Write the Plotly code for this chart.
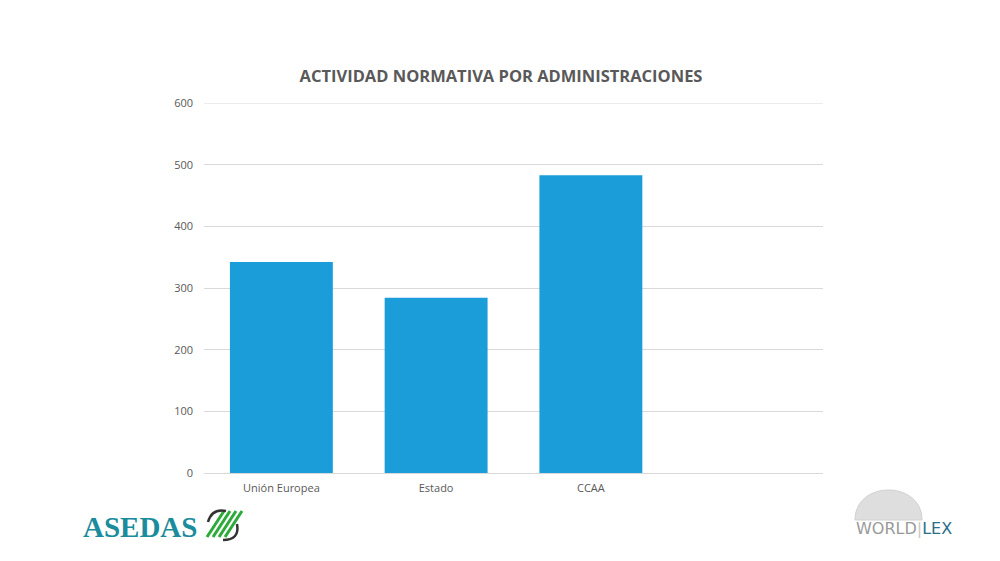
import plotly.graph_objects as go

categories = ["Unión Europea", "Estado", "CCAA", " "]
values = [342, 284, 483, None]
y_ticks = [0, 100, 200, 300, 400, 500, 600]
title_text = "ACTIVIDAD NORMATIVA POR ADMINISTRACIONES"

# helpers to place logo decorations relative to plot area (reference pixel coords)
def px(X):
    return (X - 204) / 619

def py(Y):
    return (473 - Y) / 370

fig = go.Figure()
fig.add_trace(go.Bar(
    x=categories, y=values,
    marker=dict(color="#1b9dd9", line=dict(width=0)),
    width=0.665,
    hoverinfo="x+y",
))

fig.update_layout(
    width=1000, height=561,
    margin=dict(l=196, r=185, t=95, b=96),
    paper_bgcolor="white", plot_bgcolor="white",
    showlegend=False,
    title=dict(text=title_text, x=0.493, xanchor="center", y=1 - 68 / 561, yanchor="middle",
               font=dict(family="Open Sans", size=16.5, color="#595959", weight="bold")),
    xaxis=dict(type="category", categoryorder="array", categoryarray=categories,
               range=[-0.5, 3.5], showgrid=False, showline=True, linecolor="#d9d9d9",
               linewidth=1, ticks="", ticklabelstandoff=5,
               tickfont=dict(family="Open Sans", size=11, color="#595959")),
    yaxis=dict(range=[0, 600], tickvals=y_ticks, showgrid=True, gridcolor="#d9d9d9",
               gridwidth=1, zeroline=False, showline=False, ticks="",
               ticklabelstandoff=10,
               tickfont=dict(family="Open Sans", size=11, color="#595959")),
)

# top gridline at the axis maximum (plotly omits gridline at range edge)
fig.add_shape(type="line", xref="paper", yref="y", x0=0, x1=1, y0=y_ticks[-1], y1=y_ticks[-1],
              line=dict(color="#d9d9d9", width=1), layer="below")

# ASEDAS logo (text + stripes)
fig.add_annotation(xref="paper", yref="paper", x=px(81), y=py(527), xanchor="left", yanchor="middle",
                   text="<b>ASEDAS</b>", showarrow=False,
                   font=dict(family="Liberation Serif", size=29, color="#1a8c9c"))
for i in range(4):
    X0 = 207 + 6 * i
    fig.add_shape(type="line", xref="paper", yref="paper",
                  x0=px(X0), y0=py(537), x1=px(X0 + 17), y1=py(511),
                  line=dict(color="#2eaa3a", width=3))
fig.add_shape(type="path", xref="paper", yref="paper",
              path=f"M {px(208)},{py(522)} Q {px(212)},{py(508)} {px(226)},{py(511)}",
              line=dict(color="#333333", width=2.5))
fig.add_shape(type="path", xref="paper", yref="paper",
              path=f"M {px(223)},{py(540)} Q {px(240)},{py(540)} {px(237)},{py(524)}",
              line=dict(color="#333333", width=2.5))

# WORLDLEX logo
fig.add_shape(type="path", xref="paper", yref="paper",
              path=f"M {px(855)},{py(520)} C {px(855)},{py(480)} {px(922)},{py(480)} {px(922)},{py(520)} Z",
              fillcolor="#dedede", line=dict(color="#d0d0d0", width=1), layer="below")
fig.add_annotation(xref="paper", yref="paper", x=px(854), y=py(528), xanchor="left", yanchor="middle",
                   text="WORLD<span style='color:#c8c8c8'>|</span><span style='color:#2a6f86'>LEX</span>",
                   showarrow=False,
                   font=dict(family="DejaVu Sans", size=16, color="#9a9a9a"))

fig.write_html("out.html")
